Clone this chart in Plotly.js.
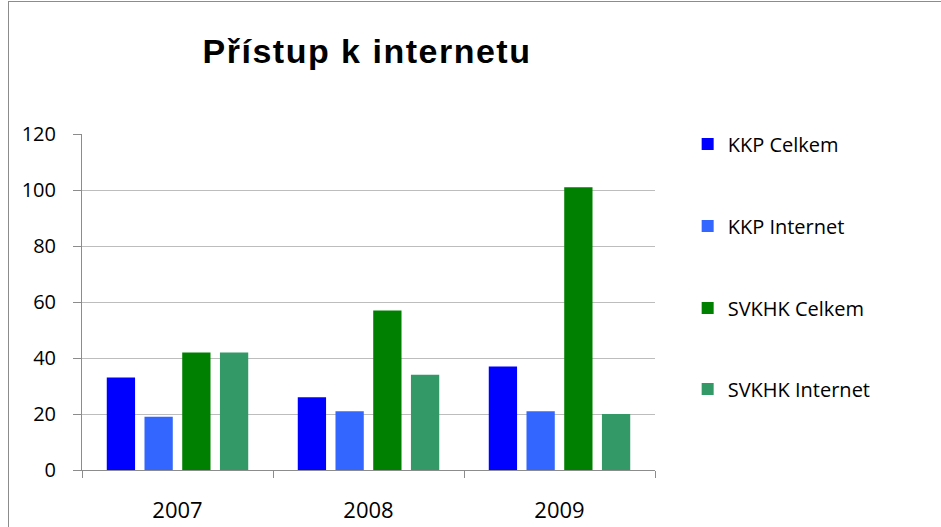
<!DOCTYPE html>
<html>
<head>
<meta charset="utf-8">
<script src="https://cdn.plot.ly/plotly-3.0.1.min.js"></script>
<style>
html,body{margin:0;padding:0;background:#fff;}
#frame{position:absolute;left:8px;top:1px;width:940px;height:530px;border:1px solid #8c8c8c;box-sizing:border-box;}
#chart{position:absolute;left:0;top:0;width:941px;height:527px;}
#chart .gtitle{letter-spacing:1.5px;}
</style>
</head>
<body>
<div id="frame"></div>
<div id="chart"></div>
<script>
const years = ['2007', '2008', '2009'];
const kkpCelkem = [33, 26, 37];
const kkpInternet = [19, 21, 21];
const svkhkCelkem = [42, 57, 101];
const svkhkInternet = [42, 34, 20];
const seriesNames = ['KKP Celkem', 'KKP Internet', 'SVKHK Celkem', 'SVKHK Internet'];
const seriesColors = ['#0000FF', '#3366FF', '#008000', '#339966'];
const seriesValues = [kkpCelkem, kkpInternet, svkhkCelkem, svkhkInternet];
const yTicks = [0, 20, 40, 60, 80, 100, 120];

const legendIds = ['legend', 'legend2', 'legend3', 'legend4'];
const legendCenters = [144, 226, 308, 389]; // pixel rows of legend entries

const traces = seriesValues.map((vals, i) => ({
  type: 'bar',
  x: years,
  y: vals,
  name: seriesNames[i],
  legend: legendIds[i],
  marker: {color: seriesColors[i]},
  hoverinfo: 'x+y+name'
}));

const plotTop = 134, plotBottom = 470;
const legendFont = {family: 'Open Sans, DejaVu Sans, sans-serif', size: 20, color: '#000'};

const layout = {
  width: 941, height: 527,
  margin: {l: 82, r: 286, t: plotTop, b: 527 - plotBottom},
  paper_bgcolor: 'rgba(0,0,0,0)',
  plot_bgcolor: 'rgba(0,0,0,0)',
  title: {
    text: '<b>Přístup k internetu</b>',
    font: {family: 'Liberation Sans, Arial, sans-serif', size: 34, color: '#000'},
    x: 0.39, xanchor: 'center', y: 0.903, yanchor: 'middle'
  },
  barmode: 'group',
  bargap: 0.21,
  bargroupgap: 0.25,
  showlegend: true,
  xaxis: {
    type: 'category',
    tickfont: {family: 'Open Sans, DejaVu Sans, sans-serif', size: 22, color: '#000'},
    showline: true, linecolor: '#8c8c8c', linewidth: 1,
    ticks: 'outside', tickson: 'boundaries', ticklen: 7, tickcolor: '#8c8c8c',
    ticklabelstandoff: 21,
    showgrid: false, zeroline: false
  },
  yaxis: {
    range: [0, 120],
    tickvals: yTicks,
    ticktext: yTicks.map(String),
    tickfont: {family: 'Open Sans, DejaVu Sans, sans-serif', size: 20, color: '#000'},
    showline: true, linecolor: '#8c8c8c', linewidth: 1,
    ticks: 'outside', ticklen: 8, tickcolor: '#8c8c8c',
    ticklabelstandoff: 13,
    showgrid: true, gridcolor: '#bdbdbd', gridwidth: 1,
    zeroline: false
  }
};

legendIds.forEach((id, i) => {
  layout[id] = {
    x: 1.057, xanchor: 'left',
    y: (plotBottom - legendCenters[i]) / (plotBottom - plotTop), yanchor: 'middle',
    font: legendFont,
    bgcolor: 'rgba(0,0,0,0)'
  };
});

Plotly.newPlot('chart', traces, layout, {displayModeBar: false, staticPlot: true});
</script>
</body>
</html>
